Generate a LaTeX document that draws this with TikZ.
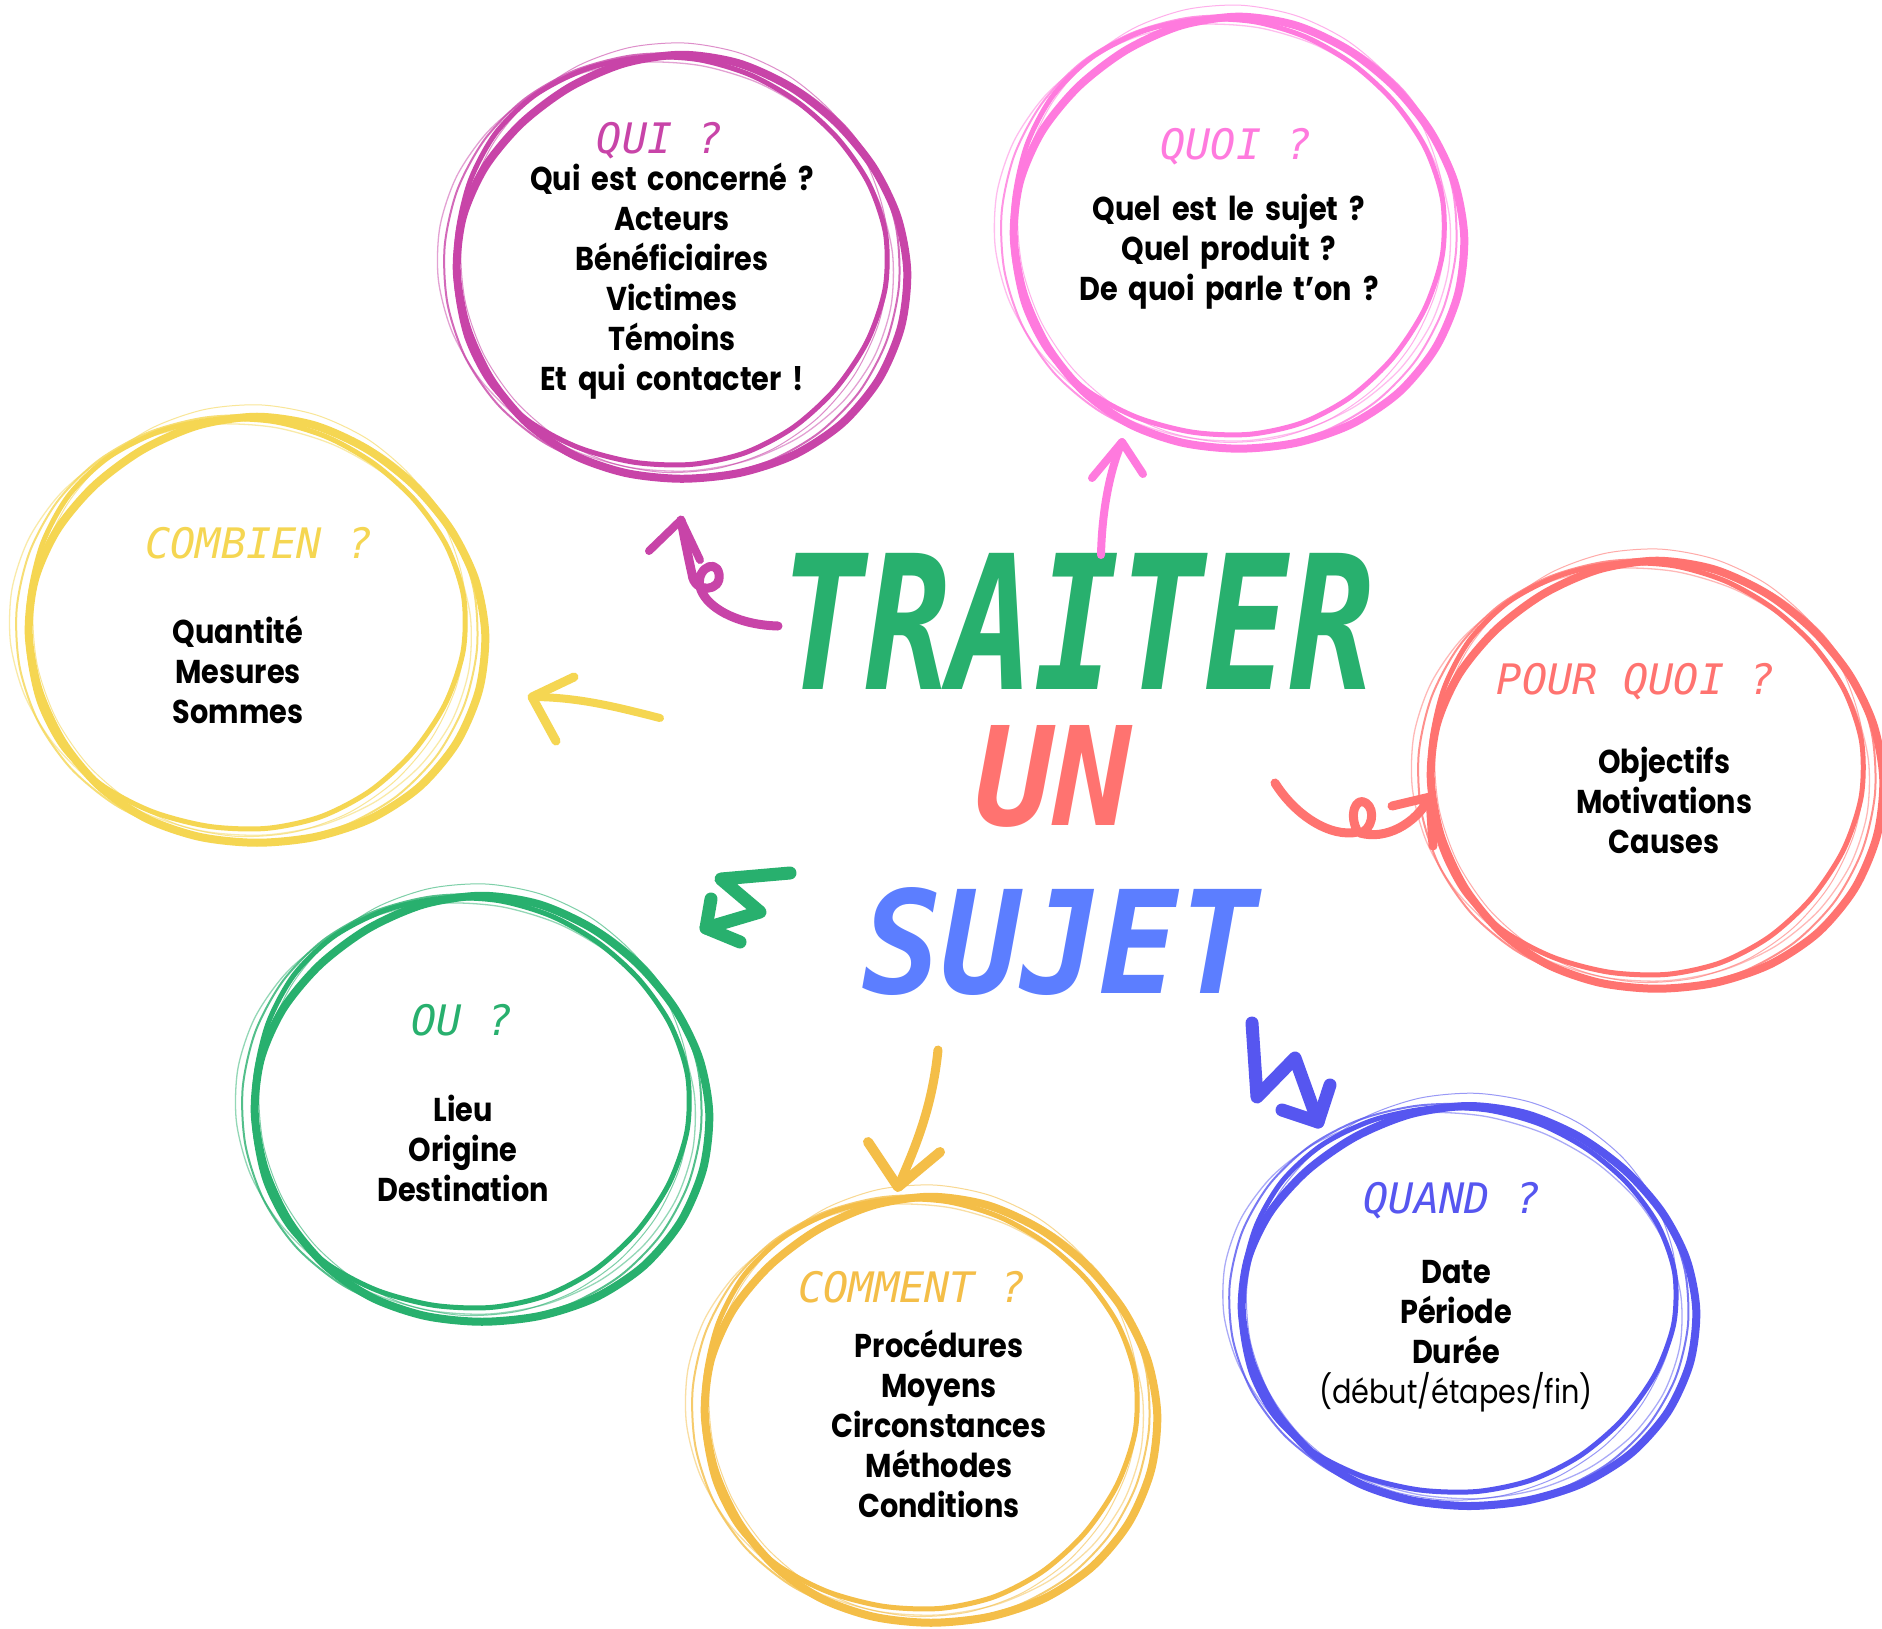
\documentclass[tikz,border=0pt]{standalone}
\usepackage{fontspec}
\usepackage{graphicx}
\usetikzlibrary{shapes.geometric}
\newfontfamily\bodyf[FakeStretch=0.87,WordSpace=1.8]{Poppins}
\newfontfamily\handf{DejaVu Sans Mono}
\newfontfamily\titlef{DejaVu Sans Mono}
\definecolor{cqui}{RGB}{200,68,168}
\definecolor{cquoi}{RGB}{255,122,222}
\definecolor{ccomb}{RGB}{245,214,82}
\definecolor{cpour}{RGB}{255,115,112}
\definecolor{cou}{RGB}{40,176,110}
\definecolor{ccomm}{RGB}{244,190,72}
\definecolor{cquand}{RGB}{86,86,240}
\definecolor{csujet}{RGB}{92,126,255}
\newcommand\ringset[5]{%
  \begin{scope}[shift={(#1,#2)}, draw=#5, line cap=round, line join=round]
    \draw[line width=8] plot[smooth cycle, domain=0:345, samples=24]
      ({(#3-9)*(1+0.02*sin(2*\x+30))*cos(\x)+8}, {(#4-8)*(1+0.02*sin(3*\x))*sin(\x)+7});
    \draw[line width=5, rotate=7] plot[smooth cycle, domain=0:345, samples=24]
      ({(#3-16)*(1+0.025*sin(3*\x+60))*cos(\x)-7}, {(#4-15)*(1+0.02*sin(2*\x))*sin(\x)-4});
    \draw[line width=2, opacity=.8, rotate=-5] plot[smooth cycle, domain=0:345, samples=24]
      ({(#3-4)*cos(\x)-2}, {(#4-3)*(1+0.02*sin(2*\x+90))*sin(\x)+2});
    \draw[line width=1, opacity=.6, rotate=12] plot[smooth cycle, domain=0:345, samples=24]
      ({(#3-18)*cos(\x)+2}, {(#4-5)*sin(\x)-6});
    \draw[line width=1.3, opacity=.5, rotate=-10] plot[smooth cycle, domain=0:345, samples=24]
      ({(#3-3)*cos(\x)-8}, {(#4-16)*sin(\x)+4});
  \end{scope}}
\tikzset{
  zone/.style={ellipse, inner sep=0pt},
  head/.style={font=\handf\itshape\fontsize{42}{44}\selectfont, anchor=base, inner sep=0pt},
  body/.style={font=\bodyf\bfseries\fontsize{33}{40}\selectfont, align=center, inner sep=0pt, text=black},
  brush/.style={line cap=round, line join=round},
}
\begin{document}
\begin{tikzpicture}[x=1pt,y=-1pt]
\fill[white] (0,0) rectangle (1882,1628);
\useasboundingbox (0,0) rectangle (1882,1628);

% rings
\ringset{674}{264}{232}{220}{cqui}
\ringset{1231}{230}{232}{224}{cquoi}
\ringset{249}{627}{235}{221}{ccomb}
\ringset{1649}{772}{233}{222}{cpour}
\ringset{474}{1106}{234}{221}{cou}
\ringset{923}{1407}{233}{221}{ccomm}
\ringset{1461}{1303}{234}{208}{cquand}

\node[zone, minimum width=464pt, minimum height=440pt] (qui) at (674,264) {};
\node[zone, minimum width=464pt, minimum height=448pt] (quoi) at (1231,230) {};
\node[zone, minimum width=470pt, minimum height=442pt] (combien) at (249,627) {};
\node[zone, minimum width=466pt, minimum height=444pt] (pourquoi) at (1649,772) {};
\node[zone, minimum width=468pt, minimum height=442pt] (ou) at (474,1106) {};
\node[zone, minimum width=466pt, minimum height=442pt] (comment) at (923,1407) {};
\node[zone, minimum width=468pt, minimum height=416pt] (quand) at (1461,1303) {};

% headers
\node[head, text=cqui] (hqui) at (660,153) {QUI ?};
\node[head, text=cquoi] (hquoi) at (1236,159) {QUOI ?};
\node[head, text=ccomb] (hcomb) at (259,558) {COMBIEN ?};
\node[head, text=cpour] (hpour) at (1636,694) {POUR QUOI ?};
\node[head, text=cou] (hou) at (462,1035) {OU ?};
\node[head, text=ccomm] (hcomm) at (912,1302) {COMMENT ?};
\node[head, text=cquand] (hquand) at (1452,1213) {QUAND ?};

% bodies
\node[body] (bqui) at (672,281) {Qui est concerné ?\\Acteurs\\Bénéficiaires\\Victimes\\Témoins\\Et qui contacter !};
\node[body] (bquoi) at (1229,252) {Quel est le sujet ?\\Quel produit ?\\De quoi parle t’on ?};
\node[body] (bcomb) at (238,670) {Quantité\\Mesures\\Sommes};
\node[body] (bpour) at (1664,800) {Objectifs\\Motivations\\Causes};
\node[body] (bou) at (463,1148) {Lieu\\Origine\\Destination};
\node[body] (bcomm) at (939,1424) {Procédures\\Moyens\\Circonstances\\Méthodes\\Conditions};
\node[body] (bquand) at (1456,1336) {Date\\Période\\Durée\\{\bodyf\mdseries (début/étapes/fin)}};

% title
\node[anchor=south west, inner sep=0pt] (traiter) at (780,690)
  {\resizebox{594pt}{136pt}{\color{cou}\titlef\bfseries\itshape TRAITER}};
\node[anchor=south west, inner sep=0pt] (un) at (975,828)
  {\resizebox{156pt}{100pt}{\color{cpour}\titlef\bfseries\itshape UN}};
\node[anchor=south west, inner sep=0pt] (sujet) at (862,996)
  {\resizebox{396pt}{106pt}{\color{csujet}\titlef\bfseries\itshape SUJET}};

% arrows
\coordinate (s1) at (778,626); \coordinate (t1) at (681,520);
\draw[brush, cqui, line width=9] (s1) .. controls (740,625) and (712,610) .. (703,594)
  .. controls (690,572) and (716,556) .. (719,574) .. controls (722,592) and (694,594) .. (692,574)
  .. controls (688,556) and (684,536) .. (t1);
\draw[brush, cqui, line width=8] (649,551) -- (t1) -- (700,560);

\coordinate (s2) at (1101,555); \coordinate (t2) at (1122,442);
\draw[brush, cquoi, line width=8] (s2) .. controls (1102,510) and (1110,470) .. (t2);
\draw[brush, cquoi, line width=8] (1092,478) -- (t2) -- (1143,474);

\coordinate (s3) at (660,718); \coordinate (t3) at (532,697);
\draw[brush, ccomb, line width=8] (s3) .. controls (620,708) and (580,697) .. (t3);
\draw[brush, ccomb, line width=9] (574,677) -- (t3) -- (556,741);

\coordinate (s4) at (1275,783); \coordinate (t4) at (1430,797);
\draw[brush, cpour, line width=9] (s4) .. controls (1295,815) and (1330,838) .. (1358,832)
  .. controls (1348,815) and (1356,796) .. (1366,803) .. controls (1376,810) and (1372,830) .. (1360,833)
  .. controls (1385,840) and (1415,825) .. (t4);
\draw[brush, cpour, line width=9] (1392,806) -- (t4) -- (1433,846);

\coordinate (s5) at (790,873); \coordinate (t5) at (706,928);
\draw[brush, cou, line width=13] (s5) -- (721,879) -- (760,912) -- (t5);
\draw[brush, cou, line width=13] (711,899) -- (t5) -- (740,942);

\coordinate (s6) at (938,1050); \coordinate (t6) at (898,1187);
\draw[brush, ccomm, line width=9] (s6) .. controls (932,1110) and (914,1150) .. (t6);
\draw[brush, ccomm, line width=10] (868,1142) -- (t6) -- (940,1152);

\coordinate (s7) at (1252,1023); \coordinate (t7) at (1318,1122);
\draw[brush, cquand, line width=13] (s7) -- (1257,1097) -- (1295,1058) -- (t7);
\draw[brush, cquand, line width=13] (1282,1110) -- (t7) -- (1330,1085);
\end{tikzpicture}
\end{document}
